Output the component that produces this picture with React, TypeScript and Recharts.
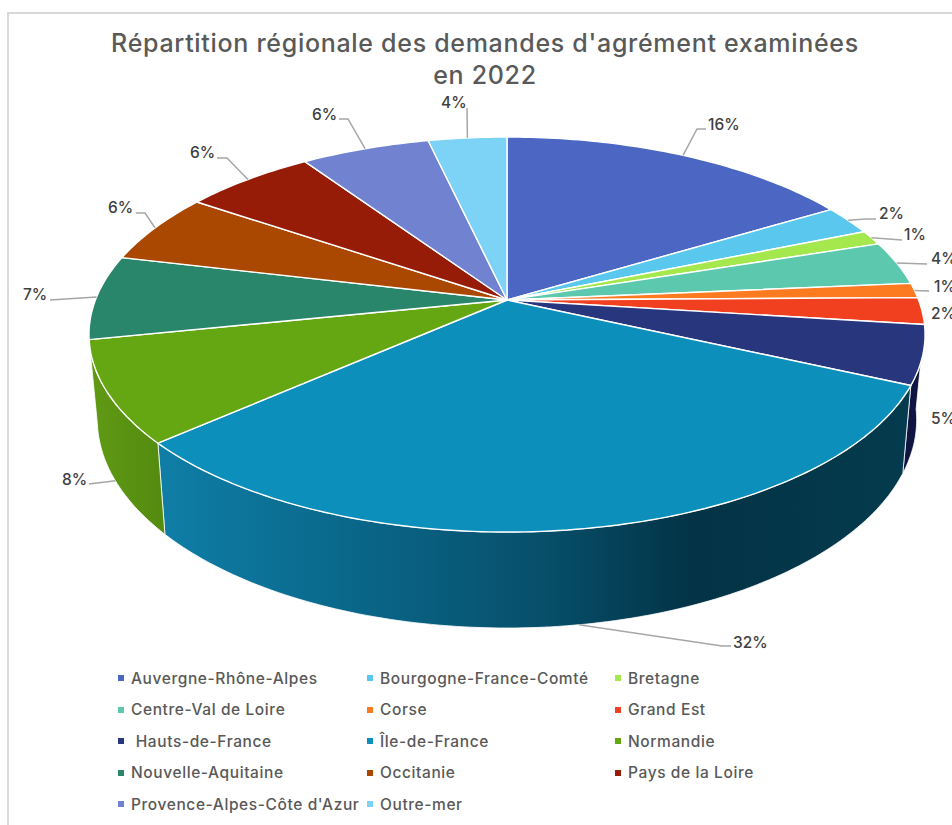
import React from 'react';
import { PieChart, Pie, Legend } from 'recharts';

const regions = [
  'Auvergne-Rhône-Alpes', 'Bourgogne-France-Comté', 'Bretagne',
  'Centre-Val de Loire', 'Corse', 'Grand Est',
  ' Hauts-de-France', 'Île-de-France', 'Normandie',
  'Nouvelle-Aquitaine', 'Occitanie', 'Pays de la Loire',
  "Provence-Alpes-Côte d'Azur", 'Outre-mer',
];
const shares = [16.4, 2.4, 1.2, 3.6, 1.2, 2.2, 4.8, 31.7, 8.3, 6.9, 5.8, 6.0, 5.9, 3.6];

const colors = [
  '#4c66c4', '#5ac8ee', '#a5e84e', '#5cc9ae', '#fc7a20', '#f04020', '#28367e',
  '#0d8fbc', '#65a712', '#2a866b', '#aa4700', '#971c08', '#7082d0', '#7dd3f5',
];
// only the three slices at the front show a side wall
const wallColors: Record<string, string> = {
  ' Hauts-de-France': '#0f1440',
  'Île-de-France': 'url(#wallIdf)',
  Normandie: 'url(#wallNormandie)',
};

const titleLines = ["Répartition régionale des demandes d'agrément examinées", 'en 2022'];

// where each percentage sits: text start, text middle y, elbow of the leader (none for 2% and 5%)
const labelSpots = [
  { x: 708, y: 124, elbow: [[697, 129], [706, 129]] },
  { x: 879, y: 213, elbow: [[866, 219], [876, 219]] },
  { x: 904, y: 234, elbow: [[902, 240]] },
  { x: 931, y: 258, elbow: [[927, 264]] },
  { x: 934, y: 286, elbow: [[929, 291]] },
  { x: 931, y: 313, elbow: null },
  { x: 931, y: 418, elbow: null },
  { x: 733, y: 642, elbow: [[722, 646], [731, 646]] },
  { x: 62, y: 479, elbow: [[89, 484]] },
  { x: 23, y: 294, elbow: [[50, 300]] },
  { x: 108, y: 207, elbow: [[145, 213], [136, 213]] },
  { x: 190, y: 152, elbow: [[227, 158], [217, 158]] },
  { x: 312, y: 114, elbow: [[348, 119], [339, 119]] },
  { x: 441, y: 102, elbow: [[467, 108]] },
];

const FONT = 'Inter, "Noto Sans", sans-serif';
const PIE_CX = 507;
const PIE_CY = 300;
const PIE_R = 411.6;
const SQUASH = 191.5 / 411.6; // tilt of the disc
const PERSP = 0.1747; // far edge is smaller than near edge
const WALL_SX = 0.98;
const WALL_SY = 1.055;
const WALL_DY = 66.7;

const data = regions.map((name, i) => ({ name, value: shares[i], fill: colors[i], wall: wallColors[name] }));

// pie angle (recharts degrees) -> point on the tilted disc
const project = (cx: number, cy: number, r: number, angle: number) => {
  const t = ((90 - angle) * Math.PI) / 180;
  const X = Math.sin(t);
  const Y = Math.cos(t);
  const s = 1 / (1 + PERSP * Y);
  return [cx + r * X * s, cy - r * SQUASH * Y * s];
};
const drop = (p: number[], cx: number) => [cx + (p[0] - cx) * WALL_SX, p[1] * WALL_SY + WALL_DY];

const arcPoints = (cx: number, cy: number, r: number, start: number, end: number) => {
  const n = Math.max(2, Math.ceil(Math.abs(end - start)));
  const pts = [];
  for (let i = 0; i <= n; i++) pts.push(project(cx, cy, r, start + ((end - start) * i) / n));
  return pts;
};
const toPath = (pts: number[][]) => pts.map((p, i) => `${i ? 'L' : 'M'}${p[0].toFixed(1)},${p[1].toFixed(1)}`).join(' ');

const TopFace = (props: any) => {
  const { cx, cy, outerRadius, startAngle, endAngle, fill } = props;
  const d = `M${cx},${cy} ` + toPath(arcPoints(cx, cy, outerRadius, startAngle, endAngle)).replace('M', 'L') + ' Z';
  return <path d={d} fill={fill} stroke="#fff" strokeWidth={1.4} strokeLinejoin="round" />;
};

const WallFace = (props: any) => {
  const { cx, cy, outerRadius, startAngle, endAngle, payload } = props;
  if (!payload.wall) return <g />;
  const top = arcPoints(cx, cy, outerRadius, startAngle, endAngle);
  const bottom = top.map((p) => drop(p, cx)).reverse();
  return <path d={toPath([...top, ...bottom]) + ' Z'} fill={payload.wall} stroke="#fff" strokeWidth={0.8} />;
};

const renderLabel = (props: any) => {
  const { cx, cy, outerRadius, midAngle, index, value } = props;
  const spot = labelSpots[index];
  let anchor = project(cx, cy, outerRadius, midAngle);
  if (index === 7 || index === 8) anchor = drop(anchor, cx); // these leaders leave from the wall
  return (
    <g>
      {spot.elbow && <polyline points={[anchor, ...spot.elbow].map((p) => p.join(',')).join(' ')} fill="none" stroke="#a6a6a6" strokeWidth={1.5} />}
      <text x={spot.x} y={spot.y} dy="0.36em" fontFamily={FONT} fontSize={15.5} fontWeight={500} fill="#404040">
        {Math.round(value)}%
      </text>
    </g>
  );
};

const legendRows = (items: typeof data) => (
  <div style={{ display: 'grid', gridTemplateColumns: '249px 248px 240px', gridAutoRows: '31.5px', fontFamily: FONT }}>
    {items.map((d) => (
      <div key={d.name} style={{ display: 'flex', alignItems: 'center', fontSize: 15.5, fontWeight: 500, letterSpacing: 0.6, color: '#595959', whiteSpace: 'pre' }}>
        <span style={{ width: 6, height: 6, background: d.fill, marginRight: 7, flex: 'none' }} />
        {d.name}
      </div>
    ))}
  </div>
);

export default function App() {
  return (
    <div style={{ position: 'absolute', left: 0, top: 0, width: 952, height: 825, background: '#fff', overflow: 'hidden' }}>
      <div style={{ position: 'absolute', left: 7, top: 12, width: 945, height: 813, borderTop: '2px solid #d9d9d9', borderLeft: '2px solid #d9d9d9', boxSizing: 'border-box' }} />
      <PieChart width={952} height={825} margin={{ top: 0, right: 0, bottom: 0, left: 0 }} style={{ position: 'absolute', left: 0, top: 0 }}>
        <defs>
          <linearGradient id="wallIdf" gradientUnits="userSpaceOnUse" x1="165" y1="0" x2="910" y2="0">
            <stop offset="0" stopColor="#0f7da5" />
            <stop offset="0.22" stopColor="#0a6a8d" />
            <stop offset="0.5" stopColor="#07506c" />
            <stop offset="0.71" stopColor="#033345" />
            <stop offset="1" stopColor="#053b4e" />
          </linearGradient>
          <linearGradient id="wallNormandie" gradientUnits="userSpaceOnUse" x1="90" y1="0" x2="165" y2="0">
            <stop offset="0" stopColor="#5f9a14" />
            <stop offset="1" stopColor="#548b10" />
          </linearGradient>
        </defs>
        <text x={485} textAnchor="middle" fontFamily={FONT} fontSize={25} fontWeight={500} letterSpacing={0.7} fill="#595959">
          <tspan x={485} y={52}>{titleLines[0]}</tspan>
          <tspan x={485} y={84}>{titleLines[1]}</tspan>
        </text>
        <Pie data={data} dataKey="value" nameKey="name" cx={PIE_CX} cy={PIE_CY} outerRadius={PIE_R} startAngle={90} endAngle={-270}
          shape={WallFace} label={false} labelLine={false} legendType="none" isAnimationActive={false} />
        <Pie data={data} dataKey="value" nameKey="name" cx={PIE_CX} cy={PIE_CY} outerRadius={PIE_R} startAngle={90} endAngle={-270}
          shape={TopFace} label={renderLabel} labelLine={false} isAnimationActive={false} />
        <Legend content={() => legendRows(data)} wrapperStyle={{ position: 'absolute', left: 118, top: 662.5, width: 760, bottom: 'auto' }} />
      </PieChart>
    </div>
  );
}
